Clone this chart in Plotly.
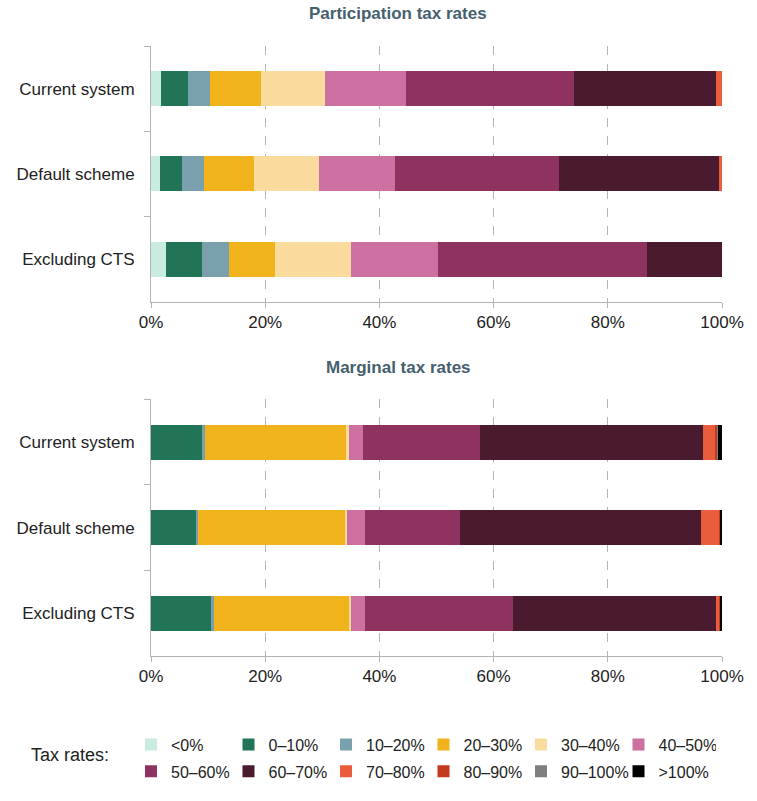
import plotly.graph_objects as go
from plotly.subplots import make_subplots

categories = ["Current system", "Default scheme", "Excluding CTS"]
bands = ["<0%", "0–10%", "10–20%", "20–30%", "30–40%", "40–50%",
         "50–60%", "60–70%", "70–80%", "80–90%", "90–100%", ">100%"]
colors = ["#c9ece0", "#217556", "#7aa0ad", "#f0b31c", "#f9dc9d", "#cb70a0",
          "#8e3360", "#4a1a2f", "#e95d3d", "#c2391b", "#7f7f7f", "#000000"]

# Participation tax rates (% of people in each band)
ptr_current = [1.8, 4.6, 4.0, 8.8, 11.3, 14.2, 29.4, 24.9, 1.0, 0, 0, 0]
ptr_default = [1.6, 3.9, 3.7, 8.9, 11.4, 13.3, 28.6, 28.1, 0.5, 0, 0, 0]
ptr_excl = [2.7, 6.3, 4.6, 8.2, 13.3, 15.1, 36.6, 13.2, 0, 0, 0, 0]

# Marginal tax rates (% of people in each band)
mtr_current = [0, 8.9, 0.6, 24.6, 0.5, 2.6, 20.5, 39.0, 2.0, 0.5, 0.1, 0.7]
mtr_default = [0, 7.9, 0.3, 25.7, 0.5, 3.0, 16.7, 42.3, 3.1, 0.3, 0, 0.2]
mtr_excl = [0, 10.5, 0.5, 23.6, 0.5, 2.3, 26.0, 35.5, 0.6, 0.3, 0, 0.2]

x_ticks = [0, 20, 40, 60, 80, 100]
x_ticklabels = ["0%", "20%", "40%", "60%", "80%", "100%"]

FONT = "Liberation Sans, Arial, sans-serif"
W, H = 757, 801
L, R, T, B = 151, 35, 46, 142
plot_h = H - T - B


def py(pix):
    return (H - B - pix) / plot_h


def px(pix):
    return (pix - L) / (W - L - R)


fig = make_subplots(rows=2, cols=1)

ptr = [ptr_current, ptr_default, ptr_excl]
mtr = [mtr_current, mtr_default, mtr_excl]

for i, band in enumerate(bands):
    leg = "legend" if i < 6 else "legend2"
    fig.add_trace(go.Bar(
        y=categories, x=[row[i] for row in ptr], orientation="h",
        name=band, marker=dict(color=colors[i], line=dict(width=0)),
        legend=leg, showlegend=True, legendgroup=band,
        hovertemplate="%{y}: %{x}%<extra>" + band + "</extra>"),
        row=1, col=1)
for i, band in enumerate(bands):
    leg = "legend" if i < 6 else "legend2"
    fig.add_trace(go.Bar(
        y=categories, x=[row[i] for row in mtr], orientation="h",
        name=band, marker=dict(color=colors[i], line=dict(width=0)),
        legend=leg, showlegend=False, legendgroup=band,
        hovertemplate="%{y}: %{x}%<extra>" + band + "</extra>"),
        row=2, col=1)

axis_common_x = dict(
    range=[0, 100], tickvals=x_ticks, ticktext=x_ticklabels,
    showgrid=True, gridcolor="#b4b4b4", griddash="dash", gridwidth=1,
    zeroline=False, showline=True, linecolor="#b4b4b4", linewidth=1,
    ticks="outside", ticklen=5, tickcolor="#b4b4b4",
    tickfont=dict(family=FONT, size=17, color="#222222"), fixedrange=True)
axis_common_y = dict(
    autorange="reversed", showline=True, linecolor="#b4b4b4", linewidth=1,
    ticks="outside", ticklen=6, tickcolor="#b4b4b4", tickson="boundaries",
    ticklabelstandoff=12,
    showgrid=False, tickfont=dict(family=FONT, size=17, color="#222222"),
    fixedrange=True)

legend_common = dict(
    orientation="h", x=px(131), xanchor="left", yanchor="middle",
    entrywidth=52.5, entrywidthmode="pixels",
    font=dict(family=FONT, size=16, color="#222222"),
    bgcolor="rgba(0,0,0,0)", borderwidth=0, traceorder="normal")

fig.update_layout(
    width=W, height=H,
    margin=dict(l=L, r=R, t=T, b=B),
    paper_bgcolor="white", plot_bgcolor="white",
    barmode="stack", bargap=0.59,
    font=dict(family=FONT, size=17, color="#222222"),
    xaxis=dict(**axis_common_x, domain=[0, 1], anchor="y"),
    xaxis2=dict(**axis_common_x, domain=[0, 1], anchor="y2"),
    yaxis=dict(**axis_common_y, domain=[py(303), 1.0], anchor="x"),
    yaxis2=dict(**axis_common_y, domain=[0, py(401)], anchor="x2"),
    legend=dict(**legend_common, y=py(748)),
    legend2=dict(**legend_common, y=py(775)),
    annotations=[
        dict(text="<b>Participation tax rates</b>", xref="paper", yref="paper",
             x=px(398), y=py(13), xanchor="center", yanchor="middle",
             showarrow=False, font=dict(family=FONT, size=17, color="#46606e")),
        dict(text="<b>Marginal tax rates</b>", xref="paper", yref="paper",
             x=px(398), y=py(369), xanchor="center", yanchor="middle",
             showarrow=False, font=dict(family=FONT, size=17, color="#46606e")),
        dict(text="Tax rates:", xref="paper", yref="paper",
             x=px(29), y=py(758), xanchor="left", yanchor="middle",
             showarrow=False, font=dict(family=FONT, size=18, color="#222222")),
    ],
)

fig.write_html("out.html")
